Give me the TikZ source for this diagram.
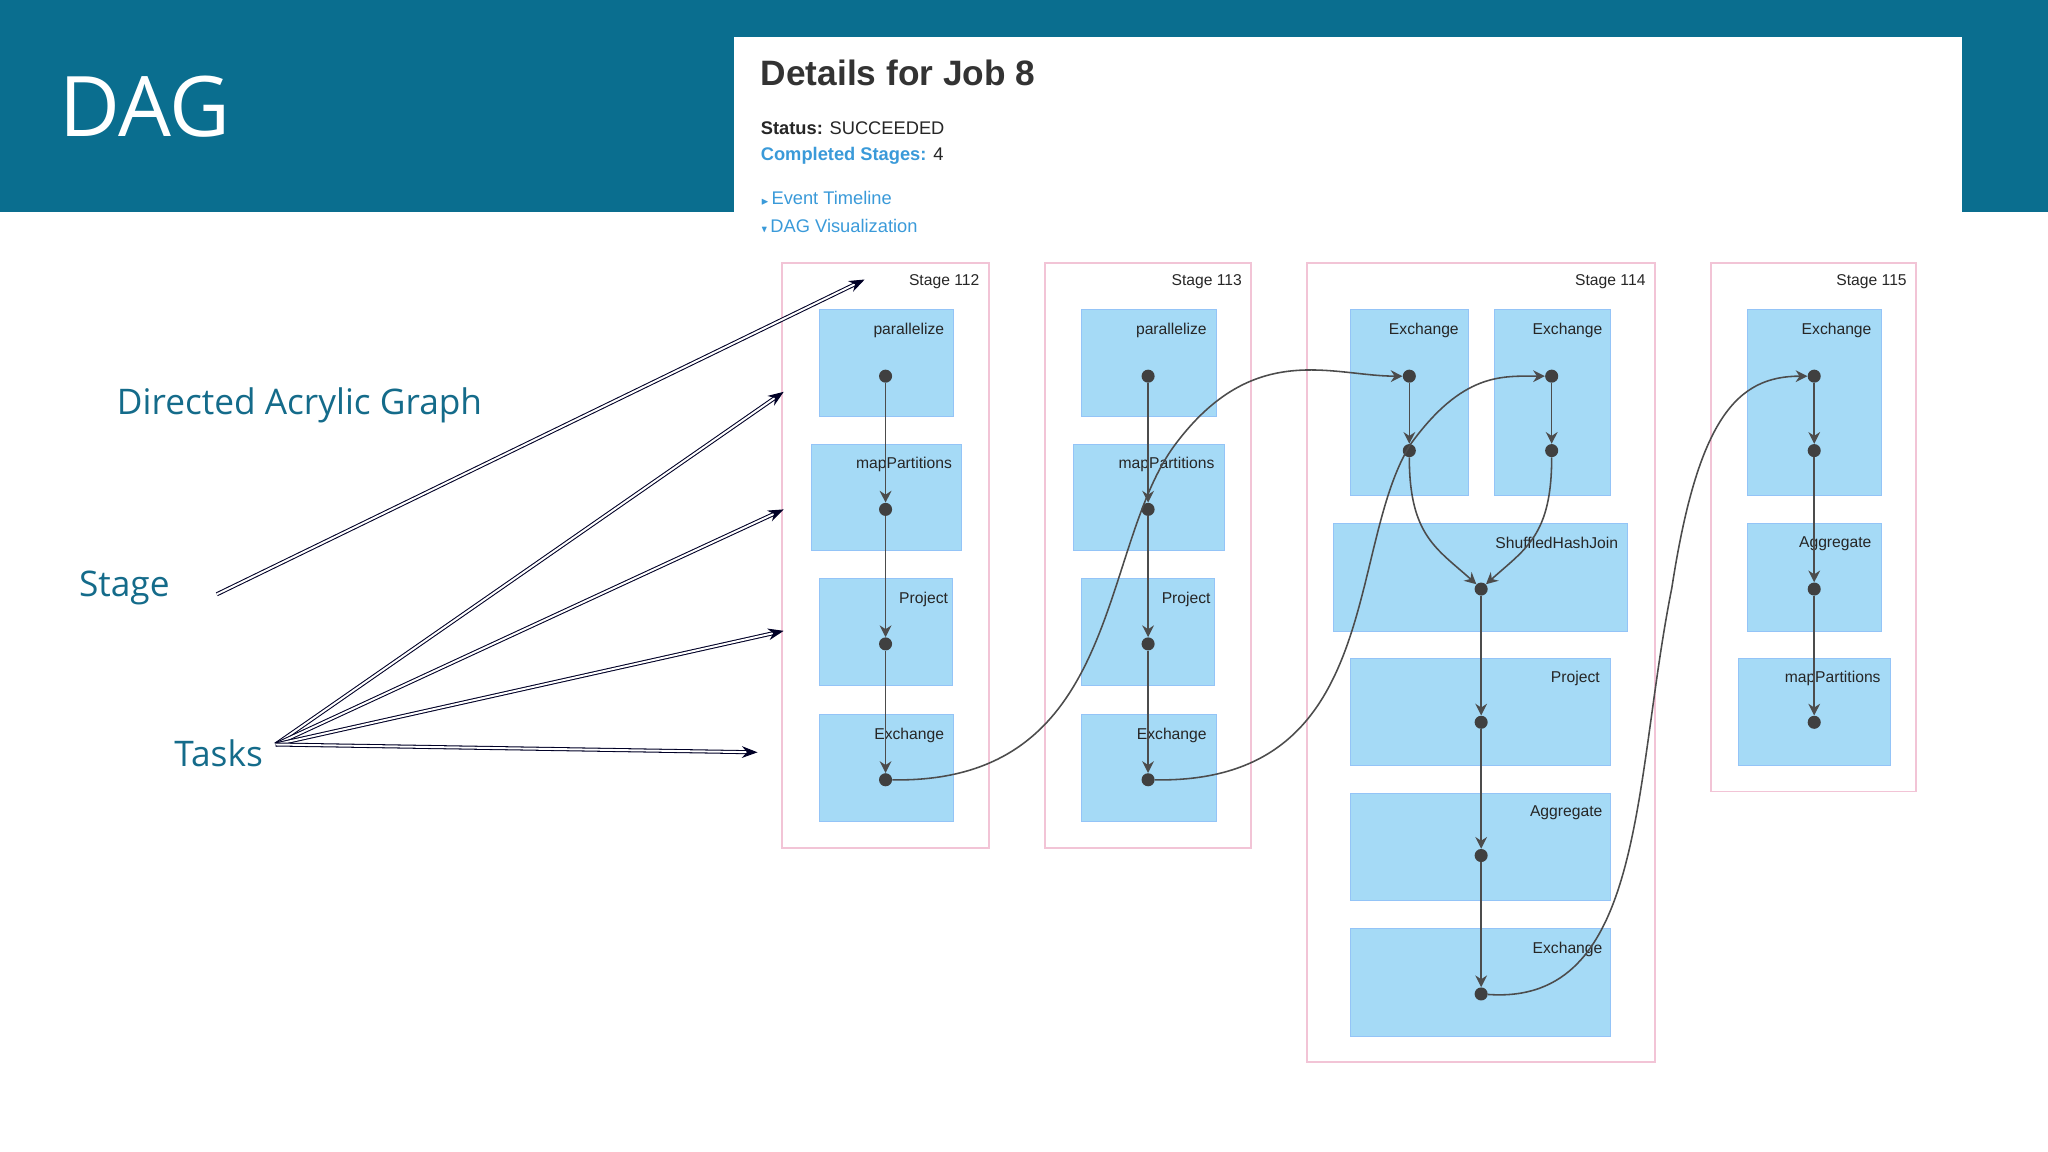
\documentclass[tikz,border=0pt]{standalone}
\usepackage{amssymb}
\usepackage{fontspec}
\setmainfont{Open Sans}
\newfontfamily\hv{Liberation Sans}
\usetikzlibrary{arrows.meta}
\definecolor{teal}{HTML}{0A6E8F}
\definecolor{tealtxt}{HTML}{146B8A}
\definecolor{boxblue}{HTML}{A5DAF6}
\definecolor{stagepink}{HTML}{F2C4D6}
\definecolor{linkblue}{HTML}{3A9AD9}
\tikzset{
 stage/.style={draw=stagepink,line width=1.5pt},
 op/.style={fill=boxblue,draw=boxblue!90!blue,line width=0.4pt},
 optxt/.style={font=\hv\fontsize{12}{14}\selectfont,anchor=north east,text=black!85,inner sep=1pt},
 sttxt/.style={font=\hv\fontsize{12}{14}\selectfont,anchor=north east,text=black!85,inner sep=1pt},
 dot/.style={circle,fill=black!75,inner sep=0pt,minimum size=10pt},
 flow/.style={draw=black!70,line width=1.2pt},
 tip/.style={-{Stealth[length=9pt,width=9pt]}},
 callout/.style={double=white,draw=black!85!blue,double distance=1.5pt,line width=0.8pt,-{Stealth[length=12pt,width=9pt]}},
 lbl/.style={font=\fontsize{27}{32}\selectfont,text=tealtxt,anchor=west}
}
\begin{document}
\begin{tikzpicture}[x=1pt,y=-1pt]
\useasboundingbox (0,0) rectangle (1568,882);
\fill[teal] (0,0) rectangle (1568,162);
\fill[white] (562,28) rectangle (1502,162);
\node[font=\fontsize{64}{72}\selectfont,text=white,anchor=west] (dag) at (42,82) {DAG};
\node[font=\hv\bfseries\fontsize{27}{30}\selectfont,anchor=west,text=black!80] (title) at (579,56) {Details for Job 8};
\node[font=\hv\fontsize{14}{16}\selectfont,anchor=west,text=black!85] (status) at (579,98) {\textbf{Status:} SUCCEEDED};
\node[font=\hv\fontsize{14}{16}\selectfont,anchor=west,text=linkblue] (comp) at (579,119) {\textbf{Completed Stages:} \textcolor{black!85}{4}};
\node[font=\hv\fontsize{14}{16}\selectfont,anchor=west,text=linkblue] (evt) at (579,152) {\scriptsize$\blacktriangleright$\ \fontsize{14}{16}\selectfont Event Timeline};
\node[font=\hv\fontsize{14}{16}\selectfont,anchor=west,text=linkblue] (dagv) at (579,173) {\scriptsize$\blacktriangledown$\ \fontsize{14}{16}\selectfont DAG Visualization};
% stages
\draw[stage] (599,201) rectangle (757,649); \node[sttxt] (s112) at (751,209) {Stage 112};
\draw[stage] (800,201) rectangle (958,649); \node[sttxt] (s113) at (952,209) {Stage 113};
\draw[stage] (1001,201) rectangle (1267,813); \node[sttxt] (s114) at (1261,209) {Stage 114};
\draw[stage] (1310,201) rectangle (1467,606); \node[sttxt] (s115) at (1461,209) {Stage 115};
% op boxes
\foreach \dx/\s in {0/a,201/b}{
 \draw[op] (627+\dx,237) rectangle (730+\dx,319); \node[optxt] (par\s) at (724+\dx,246) {parallelize};
 \draw[op] (621+\dx,340) rectangle (736+\dx,421); \node[optxt] (map\s) at (730+\dx,349) {mapPartitions};
 \draw[op] (627+\dx,443) rectangle (729+\dx,525); \node[optxt] (pro\s) at (727+\dx,452) {Project};
 \draw[op] (627+\dx,547) rectangle (730+\dx,629); \node[optxt] (exc\s) at (724+\dx,556) {Exchange};
 \node[dot] (a1\s) at (678+\dx,288) {};
 \node[dot] (a2\s) at (678+\dx,390) {};
 \node[dot] (a3\s) at (678+\dx,493) {};
 \node[dot] (a4\s) at (678+\dx,597) {};
 \draw[flow,tip] (a1\s) -- (a2\s.north);
 \draw[flow,tip] (a2\s) -- (a3\s.north);
 \draw[flow,tip] (a3\s) -- (a4\s.north);
}
\draw[op] (1034,237) rectangle (1124,379); \node[optxt] (e1) at (1118,246) {Exchange};
\draw[op] (1144,237) rectangle (1233,379); \node[optxt] (e2) at (1228,246) {Exchange};
\draw[op] (1021,401) rectangle (1246,483); \node[optxt] (shj) at (1240,410) {ShuffledHashJoin};
\draw[op] (1034,504) rectangle (1233,586); \node[optxt] (p4) at (1226,513) {Project};
\draw[op] (1034,607) rectangle (1233,689); \node[optxt] (ag4) at (1228,616) {Aggregate};
\draw[op] (1034,711) rectangle (1233,793); \node[optxt] (ex4) at (1228,720) {Exchange};
\draw[op] (1338,237) rectangle (1440,379); \node[optxt] (e5) at (1434,246) {Exchange};
\draw[op] (1338,401) rectangle (1440,483); \node[optxt] (ag5) at (1434,410) {Aggregate};
\draw[op] (1331,504) rectangle (1447,586); \node[optxt] (m5) at (1441,513) {mapPartitions};
% stage 114 dots
\node[dot] (c1) at (1079,288) {};
\node[dot] (c2) at (1079,345) {};
\node[dot] (d1) at (1188,288) {};
\node[dot] (d2) at (1188,345) {};
\node[dot] (j) at (1134,451) {};
\node[dot] (j2) at (1134,553) {};
\node[dot] (j3) at (1134,655) {};
\node[dot] (j4) at (1134,761) {};
\draw[flow,tip] (c1) -- (c2.north);
\draw[flow,tip] (d1) -- (d2.north);
\draw[flow,tip] (c2) .. controls (1079,410) and (1100,420) .. (j.north west);
\draw[flow,tip] (d2) .. controls (1188,410) and (1168,420) .. (j.north east);
\draw[flow,tip] (j) -- (j2.north);
\draw[flow,tip] (j2) -- (j3.north);
\draw[flow,tip] (j3) -- (j4.north);
% stage 115 dots
\node[dot] (f1) at (1389,288) {};
\node[dot] (f2) at (1389,345) {};
\node[dot] (f3) at (1389,451) {};
\node[dot] (f4) at (1389,553) {};
\draw[flow,tip] (f1) -- (f2.north);
\draw[flow,tip] (f2) -- (f3.north);
\draw[flow,tip] (f3) -- (f4.north);
% cross-stage curves
\draw[flow,tip] (a4a) .. controls (860,600) and (840,420) .. (900,340) .. controls (960,260) and (1020,288) .. (c1.west);
\draw[flow,tip] (a4b) .. controls (1060,600) and (1030,420) .. (1080,340) .. controls (1120,285) and (1150,288) .. (d1.west);
\draw[flow,tip] (j4) .. controls (1260,770) and (1250,600) .. (1280,450) .. controls (1300,320) and (1330,288) .. (f1.west);
% left labels
\node[lbl] (dir) at (86,310) {Directed Acrylic Graph};
\node[lbl] (stg) at (57,450) {Stage};
\node[lbl] (tsk) at (130,577) {Tasks};
\coordinate (t0) at (166,455);
\coordinate (t1) at (662,214);
\draw[callout] (t0) -- (t1);
\coordinate (k0) at (211,570);
\coordinate (k1) at (600,300);
\coordinate (k2) at (600,390);
\coordinate (k3) at (600,483);
\coordinate (k4) at (580,576);
\foreach \k in {k1,k2,k3,k4}{\draw[callout] (k0) -- (\k);}
\end{tikzpicture}
\end{document}
